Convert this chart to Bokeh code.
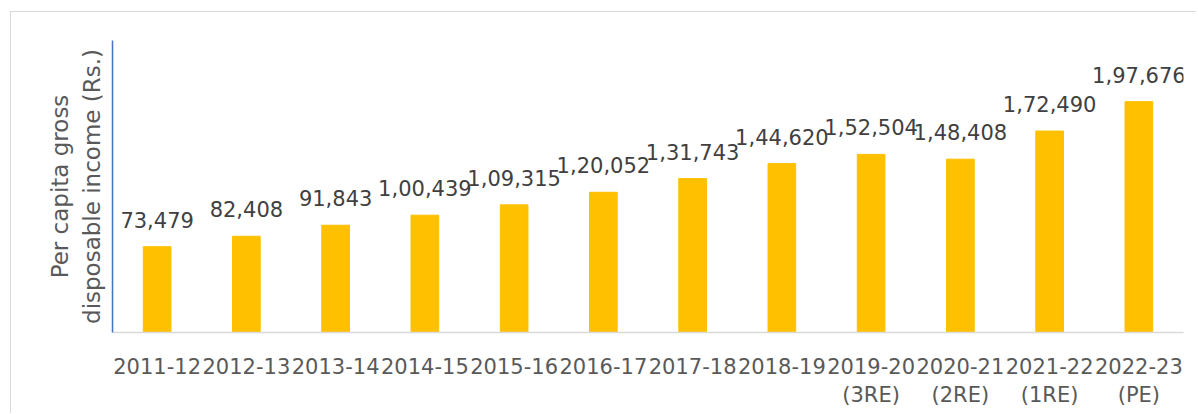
from bokeh.plotting import figure
from bokeh.models import ColumnDataSource, FactorRange, Range1d, FixedTicker
from bokeh.core.properties import value
from bokeh.embed import file_html
from bokeh.resources import INLINE

years = ["2011-12", "2012-13", "2013-14", "2014-15", "2015-16", "2016-17",
         "2017-18", "2018-19", "2019-20\n(3RE)", "2020-21\n(2RE)", "2021-22\n(1RE)", "2022-23\n(PE)"]
income = [73479, 82408, 91843, 100439, 109315, 120052, 131743, 144620, 152504, 148408, 172490, 197676]
labels = ["73,479", "82,408", "91,843", "1,00,439", "1,09,315", "1,20,052", "1,31,743",
          "1,44,620", "1,52,504", "1,48,408", "1,72,490", "1,97,676"]

src = ColumnDataSource(dict(x=years, y=income, lab=labels))

p = figure(width=1186, height=402, output_backend="svg", toolbar_location=None,
           x_range=FactorRange(factors=years, range_padding=0),
           y_range=Range1d(0, 250000),
           min_border_left=101, min_border_right=14, min_border_top=28, min_border_bottom=82)
p.styles = {"border-top": "1px solid #D9D9D9", "border-left": "1px solid #D9D9D9",
            "margin-left": "10px", "margin-top": "11px"}
p.outline_line_color = None
p.grid.grid_line_color = None

p.vbar(x="x", top="y", width=0.31, source=src, color="#FFC000")
p.text(x="x", y="y", text="lab", source=src, text_align="center", text_baseline="bottom",
       y_offset=-19, text_font=value("DejaVu Sans"), text_font_size="21px", text_color="#404040")

ya = p.yaxis[0]
ya.ticker = FixedTicker(ticks=[])
ya.axis_line_color = "#4472C4"
ya.axis_line_width = 1.5
ya.major_tick_line_color = None
ya.minor_tick_line_color = None
ya.axis_label = "Per capita gross\ndisposable income (Rs.)"
ya.axis_label_text_font = "DejaVu Sans"
ya.axis_label_text_font_size = "23px"
ya.axis_label_text_font_style = "normal"
ya.axis_label_text_color = "#595959"
ya.axis_label_standoff = 8

xa = p.xaxis[0]
xa.axis_line_color = "#D9D9D9"
xa.axis_line_width = 1.5
xa.major_tick_line_color = None
xa.minor_tick_line_color = None
xa.major_label_text_font = "DejaVu Sans"
xa.major_label_text_font_size = "21px"
xa.major_label_text_color = "#595959"
xa.major_label_standoff = 16

open("out.html", "w").write(file_html(p, INLINE))
